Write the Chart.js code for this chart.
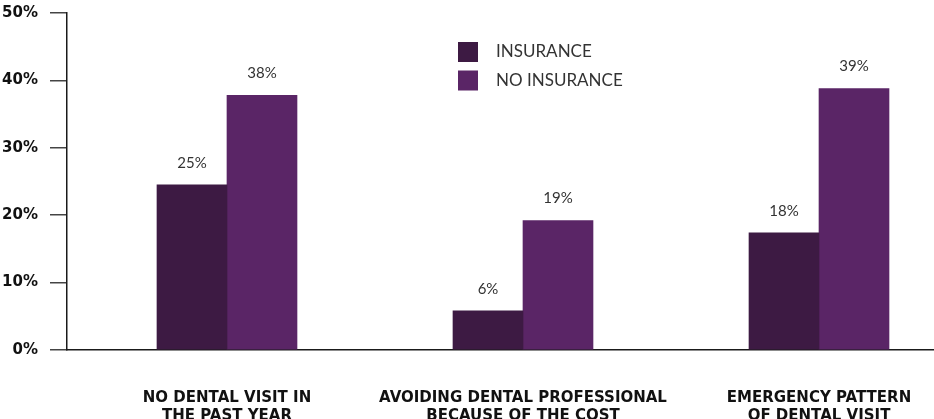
<!DOCTYPE html>
<html>
<head>
<meta charset="utf-8">
<script src="https://cdn.jsdelivr.net/npm/chart.js@4/dist/chart.umd.min.js"></script>
<style>
  html, body { margin: 0; padding: 0; background: #fff; overflow: hidden; }
  canvas { display: block; }
</style>
</head>
<body>
<canvas id="dental" width="934" height="419"></canvas>
<script>
var categories = [
  ["NO DENTAL VISIT IN", "THE PAST YEAR"],
  ["AVOIDING DENTAL PROFESSIONAL", "BECAUSE OF THE COST"],
  ["EMERGENCY PATTERN", "OF DENTAL VISIT"]
];
var insurance = [24.5, 5.8, 17.4];
var noInsurance = [37.8, 19.2, 38.8];
var insuranceLabels = ["25%", "6%", "18%"];
var noInsuranceLabels = ["38%", "19%", "39%"];
var yTicks = [0, 10, 20, 30, 40, 50];

var colors = ["#3d1a43", "#5a2566"];

function toPoints(values) {
  return values.map(function (v, i) { return { x: i, y: v }; });
}

// value labels above each bar
var barLabels = {
  id: "barLabels",
  afterDatasetsDraw: function (chart) {
    var ctx = chart.ctx;
    ctx.save();
    ctx.font = "15px Lato, 'DejaVu Sans', sans-serif";
    ctx.fillStyle = "#333";
    ctx.textAlign = "center";
    ctx.textBaseline = "middle";
    chart.data.datasets.forEach(function (ds, i) {
      chart.getDatasetMeta(i).data.forEach(function (bar, j) {
        ctx.fillText(ds.valueLabels[j], bar.x, bar.y - 22);
      });
    });
    ctx.restore();
  }
};

// legend sitting inside the plot, two rows
var boxLegend = {
  id: "boxLegend",
  afterDraw: function (chart) {
    var ctx = chart.ctx;
    ctx.save();
    ctx.font = "17px Lato, 'DejaVu Sans', sans-serif";
    ctx.textBaseline = "middle";
    chart.data.datasets.forEach(function (ds, i) {
      var y = 42 + i * 28.5;
      ctx.fillStyle = ds.backgroundColor;
      ctx.fillRect(458, y, 20, 20);
      ctx.fillStyle = "#333";
      ctx.fillText(ds.label, 496, y + 10);
    });
    ctx.restore();
  }
};

new Chart("dental", {
  type: "bar",
  data: {
    datasets: [{
      label: "INSURANCE",
      backgroundColor: colors[0],
      data: toPoints(insurance),
      valueLabels: insuranceLabels
    }, {
      label: "NO INSURANCE",
      backgroundColor: colors[1],
      data: toPoints(noInsurance),
      valueLabels: noInsuranceLabels
    }]
  },
  options: {
    responsive: false,
    animation: false,
    barThickness: 70,
    layout: { padding: { top: 13, left: 0, right: 0, bottom: 0 } },
    plugins: {
      legend: { display: false },
      tooltip: { enabled: false }
    },
    scales: {
      x: {
        type: "linear",
        min: -0.5405,
        max: 2.3885,
        offset: false,
        afterBuildTicks: function (scale) {
          scale.ticks = categories.map(function (c, i) { return { value: i }; });
        },
        grid: { display: false, drawTicks: false },
        border: { color: "#1a1a1a", width: 1.5 },
        ticks: {
          padding: 39,
          color: "#111",
          font: { family: "'DejaVu Sans', sans-serif", size: 15, weight: "bold", lineHeight: 1.2 },
          maxRotation: 0,
          autoSkip: false,
          callback: function (v) { return categories[v]; }
        },
        afterFit: function (scale) {
          scale.height = 69;
          scale.paddingLeft = 0;
          scale.paddingRight = 0;
        }
      },
      y: {
        min: 0,
        max: 50,
        afterBuildTicks: function (scale) {
          scale.ticks = yTicks.map(function (v) { return { value: v }; });
        },
        grid: {
          drawOnChartArea: false,
          drawTicks: true,
          tickLength: 17,
          color: "#444",
          lineWidth: 1.5
        },
        border: { color: "#1a1a1a", width: 1.5 },
        ticks: {
          padding: 12,
          color: "#111",
          font: { family: "'DejaVu Sans', sans-serif", size: 15, weight: "bold" },
          callback: function (v) { return v + "%"; }
        },
        afterFit: function (scale) {
          scale.width = 67;
          scale.paddingTop = 0;
          scale.paddingBottom = 0;
        }
      }
    }
  },
  plugins: [barLabels, boxLegend]
});
</script>
</body>
</html>
